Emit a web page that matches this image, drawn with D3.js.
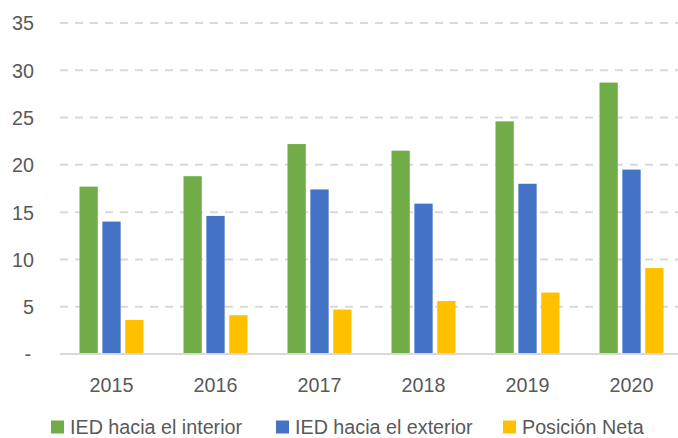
<!DOCTYPE html>
<html>
<head>
<meta charset="utf-8">
<script src="https://cdn.jsdelivr.net/npm/d3@7"></script>
<style>
  body { margin: 0; background: #fff; }
  svg { display: block; font-family: "Liberation Sans", Arial, sans-serif; }
</style>
</head>
<body>
<svg id="chart" width="678" height="438"></svg>
<script>
const years = ["2015", "2016", "2017", "2018", "2019", "2020"];
const seriesNames = ["IED hacia el interior", "IED hacia el exterior", "Posición Neta"];
const inward = [17.7, 18.8, 22.2, 21.5, 24.6, 28.7];
const outward = [14.0, 14.6, 17.4, 15.9, 18.0, 19.5];
const netPosition = [3.6, 4.1, 4.7, 5.6, 6.5, 9.1];
const yTicks = [0, 5, 10, 15, 20, 25, 30, 35];
const colors = ["#70AD47", "#4472C4", "#FFC000"];

const seriesValues = [inward, outward, netPosition];

const svg = d3.select("#chart");
const textScale = "scale(0.94,1)";

const x0 = d3.scaleBand()
    .domain(years)
    .range([59.5, 683.5]);

const x1 = d3.scaleBand()
    .domain(seriesNames)
    .range([-32, 32])
    .paddingInner(0.2);

const y = d3.scaleLinear()
    .domain([0, 35])
    .range([354, 23]);

// grid lines
svg.append("g")
    .selectAll("line")
    .data(yTicks.filter(d => d > 0))
    .join("line")
    .attr("x1", 60)
    .attr("x2", 678)
    .attr("y1", d => y(d))
    .attr("y2", d => y(d))
    .attr("stroke", "#d9d9d9")
    .attr("stroke-width", 2)
    .attr("stroke-dasharray", "8,7");

// y labels
svg.append("g")
    .selectAll("text")
    .data(yTicks)
    .join("text")
    .attr("transform", d => `translate(${d === 0 ? 31 : 34},${y(d)}) ${textScale}`)
    .attr("dy", "0.35em")
    .attr("text-anchor", "end")
    .attr("fill", "#595959")
    .style("font-size", "21px")
    .text(d => d === 0 ? "-" : d);

// bars
const groups = svg.append("g")
    .selectAll("g")
    .data(years)
    .join("g")
    .attr("transform", d => `translate(${x0(d) + x0.bandwidth() / 2},0)`);

groups.selectAll("rect")
    .data((d, i) => seriesNames.map((s, j) => ({ s, j, v: seriesValues[j][i] })))
    .join("rect")
    .attr("x", d => x1(d.s))
    .attr("width", x1.bandwidth())
    .attr("y", d => y(d.v))
    .attr("height", d => y(0) - y(d.v))
    .attr("fill", d => colors[d.j]);

// baseline
svg.append("line")
    .attr("x1", 60)
    .attr("x2", 678)
    .attr("y1", y(0))
    .attr("y2", y(0))
    .attr("stroke", "#d9d9d9")
    .attr("stroke-width", 2);

// x labels
svg.append("g")
    .selectAll("text")
    .data(years)
    .join("text")
    .attr("transform", d => `translate(${x0(d) + x0.bandwidth() / 2},392) ${textScale}`)
    .attr("text-anchor", "middle")
    .attr("fill", "#595959")
    .style("font-size", "21px")
    .text(d => d);

// legend
const legendX = [51, 276, 503];
const legend = svg.append("g")
    .selectAll("g")
    .data(seriesNames)
    .join("g")
    .attr("transform", (d, i) => `translate(${legendX[i]},420.5)`);

legend.append("rect")
    .attr("width", 13)
    .attr("height", 13)
    .attr("fill", (d, i) => colors[i]);

legend.append("text")
    .attr("transform", `translate(19,13) ${textScale}`)
    .attr("fill", "#595959")
    .style("font-size", "21px")
    .text(d => d);
</script>
</body>
</html>
